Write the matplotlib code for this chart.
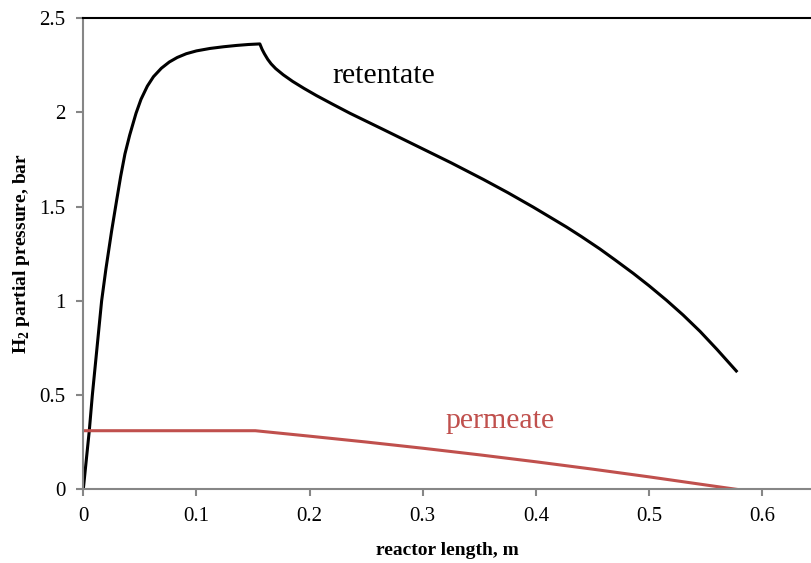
import matplotlib.pyplot as plt

plt.rcParams['font.family'] = ['Liberation Serif', 'DejaVu Serif']
plt.rcParams['mathtext.fontset'] = 'custom'
plt.rcParams['mathtext.rm'] = 'Liberation Serif'
plt.rcParams['mathtext.bf'] = 'Liberation Serif:bold'

# retentate H2 partial pressure along the reactor
ret_x = [0, 0.0053, 0.008, 0.0162, 0.020, 0.025, 0.0295, 0.033, 0.0368, 0.041,
         0.0466, 0.051, 0.0566, 0.062, 0.069, 0.076, 0.083, 0.091, 0.100, 0.112,
         0.124, 0.1355, 0.146, 0.156, 0.158, 0.160, 0.163, 0.166, 0.170, 0.1767,
         0.185, 0.195, 0.206, 0.220, 0.2356, 0.265, 0.2945, 0.325, 0.3534, 0.375,
         0.3975, 0.412, 0.427, 0.440, 0.4564, 0.470, 0.486, 0.500, 0.5154, 0.530,
         0.545, 0.560, 0.577]
ret_y = [0, 0.311, 0.5, 1.0, 1.17, 1.37, 1.535, 1.66, 1.78, 1.88,
         1.996, 2.07, 2.14, 2.19, 2.235, 2.268, 2.292, 2.312, 2.327, 2.340,
         2.349, 2.356, 2.361, 2.364, 2.335, 2.312, 2.282, 2.258, 2.233, 2.200,
         2.165, 2.128, 2.090, 2.045, 1.996, 1.910, 1.823, 1.733, 1.645, 1.575,
         1.498, 1.446, 1.392, 1.342, 1.276, 1.217, 1.146, 1.080, 1.003, 0.925,
         0.838, 0.742, 0.628]

# permeate H2 partial pressure
perm_x = [0, 0.152, 0.2, 0.25, 0.3, 0.35, 0.4, 0.45, 0.5, 0.55, 0.577]
perm_y = [0.311, 0.311, 0.282, 0.251, 0.218, 0.183, 0.146, 0.107, 0.066, 0.023, 0.0]

x_ticks = [0, 0.1, 0.2, 0.3, 0.4, 0.5, 0.6]
x_labels = ['0', '0.1', '0.2', '0.3', '0.4', '0.5', '0.6']
y_ticks = [0, 0.5, 1, 1.5, 2, 2.5]
y_labels = ['0', '0.5', '1', '1.5', '2', '2.5']

red = '#C0504D'
grey = '#868686'

fig = plt.figure(figsize=(8.11, 5.63), dpi=100)
ax = fig.add_axes([0.1027, 0.1309, 0.8973, 0.8366])

ax.plot(ret_x, ret_y, color='black', lw=2.2, solid_joinstyle='round')
ax.plot(perm_x, perm_y, color=red, lw=2.2, solid_joinstyle='round')

ax.set_xlim(0, 0.643)
ax.set_ylim(0, 2.5)
ax.set_xticks(x_ticks)
ax.set_xticklabels(x_labels)
ax.set_yticks(y_ticks)
ax.set_yticklabels(y_labels)

for s in ['left', 'bottom']:
    ax.spines[s].set_color(grey)
    ax.spines[s].set_linewidth(1.5)
ax.spines['right'].set_visible(False)
ax.spines['top'].set_color('black')
ax.spines['top'].set_linewidth(1.5)

ax.tick_params(direction='out', length=5, width=1.5, color=grey,
               labelsize=15, pad=8)

ax.set_xlabel('reactor length, m', fontsize=14, fontweight='bold', labelpad=11)
ax.set_ylabel(r'H$_{\mathbf{2}}$ partial pressure, bar', fontsize=14,
              fontweight='bold', labelpad=5)

ax.text(0.2656, 2.195, 'retentate', fontsize=21.5, ha='center', va='center', color='black')
ax.text(0.368, 0.365, 'permeate', fontsize=21.5, ha='center', va='center', color=red)

fig.savefig('out.png', dpi=100)
